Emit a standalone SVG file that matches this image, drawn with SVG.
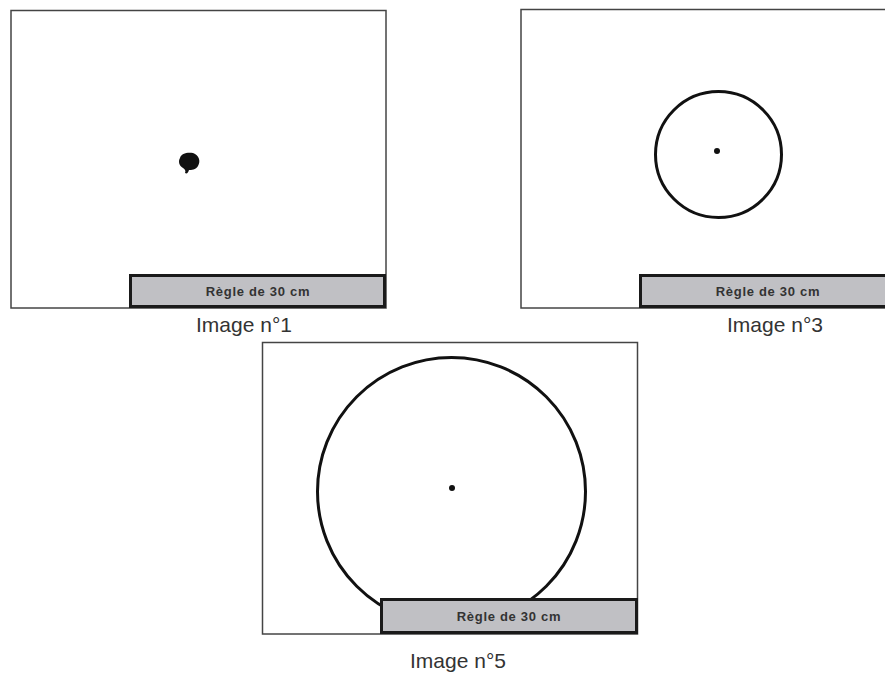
<svg xmlns="http://www.w3.org/2000/svg" width="885" height="673" viewBox="0 0 885 673">
<style>
.frame{fill:#fff;stroke:#444;stroke-width:1.5}
.ruler{fill:#c0c0c4;stroke:#1a1a1a;stroke-width:3}
.rtext{font-family:"Liberation Sans",Arial,sans-serif;font-weight:bold;font-size:13px;letter-spacing:0.7px;fill:#333;text-anchor:middle}
.label{font-family:"Liberation Sans",Arial,sans-serif;font-size:21px;fill:#333;text-anchor:middle}
.circ{fill:none;stroke:#111;stroke-width:3}
.dot{fill:#111}
</style>
<rect width="885" height="673" fill="#fff"/>
<g id="image1">
<rect class="frame" x="11" y="10.5" width="375" height="297.5"/>
<path class="dot" d="M180,158 C181,153 188,152 193,153 C199,155 201,161 198,166 C196,170 191,170 189,170 C188,173 187,174 185,173 C186,171 185,169 183,168 C179,166 178,161 180,158 Z"/>
<rect class="ruler" x="130.5" y="275.5" width="254" height="31"/>
<text class="rtext" x="258" y="295.5">Règle de 30 cm</text>
<text class="label" x="244" y="332">Image n°1</text>
</g>
<g id="image3">
<rect class="frame" x="521" y="9.5" width="380" height="298.5"/>
<circle class="circ" cx="718.5" cy="154.5" r="63"/>
<circle class="dot" cx="717" cy="151" r="3"/>
<rect class="ruler" x="640.5" y="275.5" width="260" height="31"/>
<text class="rtext" x="768" y="295.5">Règle de 30 cm</text>
<text class="label" x="775" y="332">Image n°3</text>
</g>
<g id="image5">
<rect class="frame" x="262.5" y="342.5" width="375" height="291.5"/>
<circle class="circ" cx="451.5" cy="491.5" r="134"/>
<circle class="dot" cx="452" cy="488" r="3"/>
<rect class="ruler" x="381.5" y="599.5" width="255" height="33"/>
<text class="rtext" x="509" y="621">Règle de 30 cm</text>
<text class="label" x="458" y="668">Image n°5</text>
</g>
</svg>
